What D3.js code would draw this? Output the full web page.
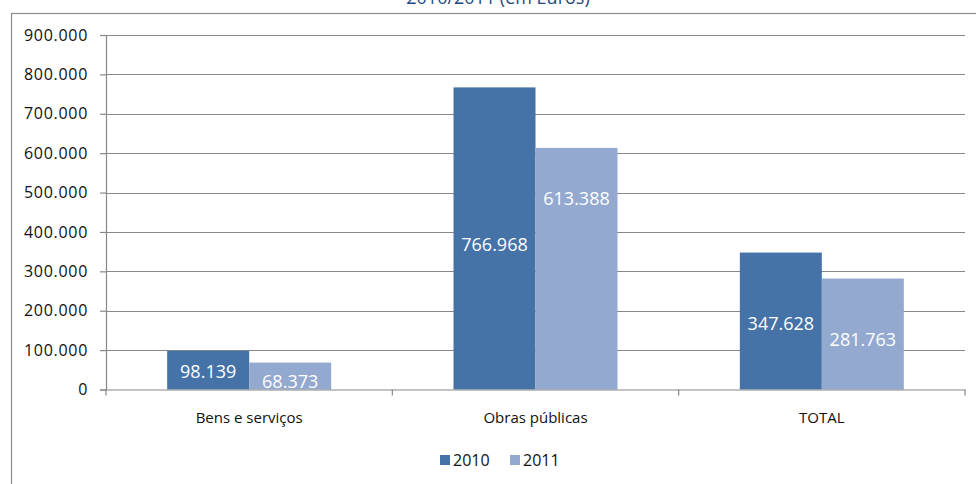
<!DOCTYPE html>
<html>
<head>
<meta charset="utf-8">
<script src="https://cdn.jsdelivr.net/npm/d3@7"></script>
<style>
  html, body { margin: 0; padding: 0; background: #fff; }
  svg { display: block; font-family: "Open Sans", "Noto Sans", sans-serif; }
</style>
</head>
<body>
<svg id="chart" width="976" height="484"></svg>
<script>
// Chart data
const categories = ["Bens e serviços", "Obras públicas", "TOTAL"];
const seriesNames = ["2010", "2011"];
const values2010 = [98139, 766968, 347628];
const values2011 = [68373, 613388, 281763];
const yTicks = [0, 100000, 200000, 300000, 400000, 500000, 600000, 700000, 800000, 900000];
const titleText = "2010/2011 (em Euros)";

// Layout: where each value label sits, as a fraction of its bar's height
const labelRise = { "2010": [0.47, 0.48, 0.48], "2011": [0.31, 0.79, 0.45] };
const colors = { "2010": "#4572A7", "2011": "#93A9CF" };

const svg = d3.select("#chart");
const plot = { left: 106, right: 965, top: 35, bottom: 389.5 };

const fmt = v => d3.format(",")(v).replace(/,/g, ".");

// Outer chart frame
svg.append("rect")
  .attr("x", 11.5).attr("y", 13.5)
  .attr("width", 1000).attr("height", 1000)
  .attr("fill", "none").attr("stroke", "#8c8c8c").attr("stroke-width", 1.2);

// Title (partially above the frame)
svg.append("text")
  .attr("x", 498).attr("y", 4)
  .attr("text-anchor", "middle")
  .attr("fill", "#1F497D")
  .attr("font-size", 18)
  .text(titleText);

const y = d3.scaleLinear().domain([0, 900000]).range([plot.bottom, plot.top]);
const x0 = d3.scaleBand().domain(categories).range([plot.left, plot.right]).paddingInner(0).paddingOuter(0);
const x1 = d3.scaleBand().domain(seriesNames).range([0, x0.bandwidth()]).paddingInner(0).paddingOuter(0.746);

// Gridlines
svg.append("g").selectAll("line")
  .data(yTicks.filter(t => t > 0))
  .join("line")
  .attr("x1", plot.left).attr("x2", plot.right)
  .attr("y1", d => Math.round(y(d)) + 0.5).attr("y2", d => Math.round(y(d)) + 0.5)
  .attr("stroke", "#888").attr("stroke-width", 1.2);

// Y axis
const yAxis = d3.axisLeft(y).tickValues(yTicks).tickFormat(fmt).tickSize(6).tickPadding(12);
const gy = svg.append("g").attr("transform", `translate(${plot.left},0)`).call(yAxis);
gy.select(".domain").attr("stroke", "#888").attr("stroke-width", 1.2);
gy.selectAll(".tick line").attr("stroke", "#888").attr("stroke-width", 1.2);
gy.selectAll(".tick text")
  .attr("font-family", "Open Sans").attr("font-size", 16).attr("letter-spacing", 0.7)
  .attr("fill", "#111");

// Bars
const rows = categories.map((c, i) => ({ cat: c, i, vals: [values2010[i], values2011[i]] }));
const groups = svg.append("g").selectAll("g")
  .data(rows).join("g")
  .attr("transform", d => `translate(${x0(d.cat)},0)`);

groups.selectAll("rect")
  .data(d => seriesNames.map((s, k) => ({ s, v: d.vals[k], i: d.i })))
  .join("rect")
  .attr("x", d => x1(d.s))
  .attr("width", x1.bandwidth())
  .attr("y", d => y(d.v))
  .attr("height", d => y(0) - y(d.v))
  .attr("fill", d => colors[d.s]);

// Value labels inside the bars
groups.selectAll("text.val")
  .data(d => seriesNames.map((s, k) => ({ s, v: d.vals[k], i: d.i })))
  .join("text")
  .attr("class", "val")
  .attr("x", d => x1(d.s) + x1.bandwidth() / 2)
  .attr("y", d => y(d.v * labelRise[d.s][d.i]))
  .attr("dy", "0.36em")
  .attr("text-anchor", "middle")
  .attr("fill", "#fff")
  .attr("font-size", 18)
  .text(d => fmt(d.v));

// X axis
const xAxis = d3.axisBottom(x0).tickSize(0).tickPadding(23);
const gx = svg.append("g").attr("transform", `translate(0,${plot.bottom})`).call(xAxis);
gx.select(".domain").attr("stroke", "#888").attr("stroke-width", 1.2);
gx.selectAll(".tick text").attr("font-family", "Open Sans").attr("font-size", 15).attr("fill", "#111");
gx.append("g").selectAll("line")
  .data(d3.range(categories.length + 1))
  .join("line")
  .attr("x1", k => plot.left + k * x0.step()).attr("x2", k => plot.left + k * x0.step())
  .attr("y1", 0).attr("y2", 6)
  .attr("stroke", "#888").attr("stroke-width", 1.2);

// Legend
const legend = svg.append("g").attr("transform", "translate(440,455)");
const legendX = [0, 70];
seriesNames.forEach((s, k) => {
  const g = legend.append("g").attr("transform", `translate(${legendX[k]},0)`);
  g.append("rect").attr("width", 10).attr("height", 10).attr("fill", colors[s]);
  g.append("text").attr("x", 13).attr("y", 5).attr("dy", "0.36em")
    .attr("font-size", 16).attr("fill", "#111").text(s);
});
</script>
</body>
</html>
